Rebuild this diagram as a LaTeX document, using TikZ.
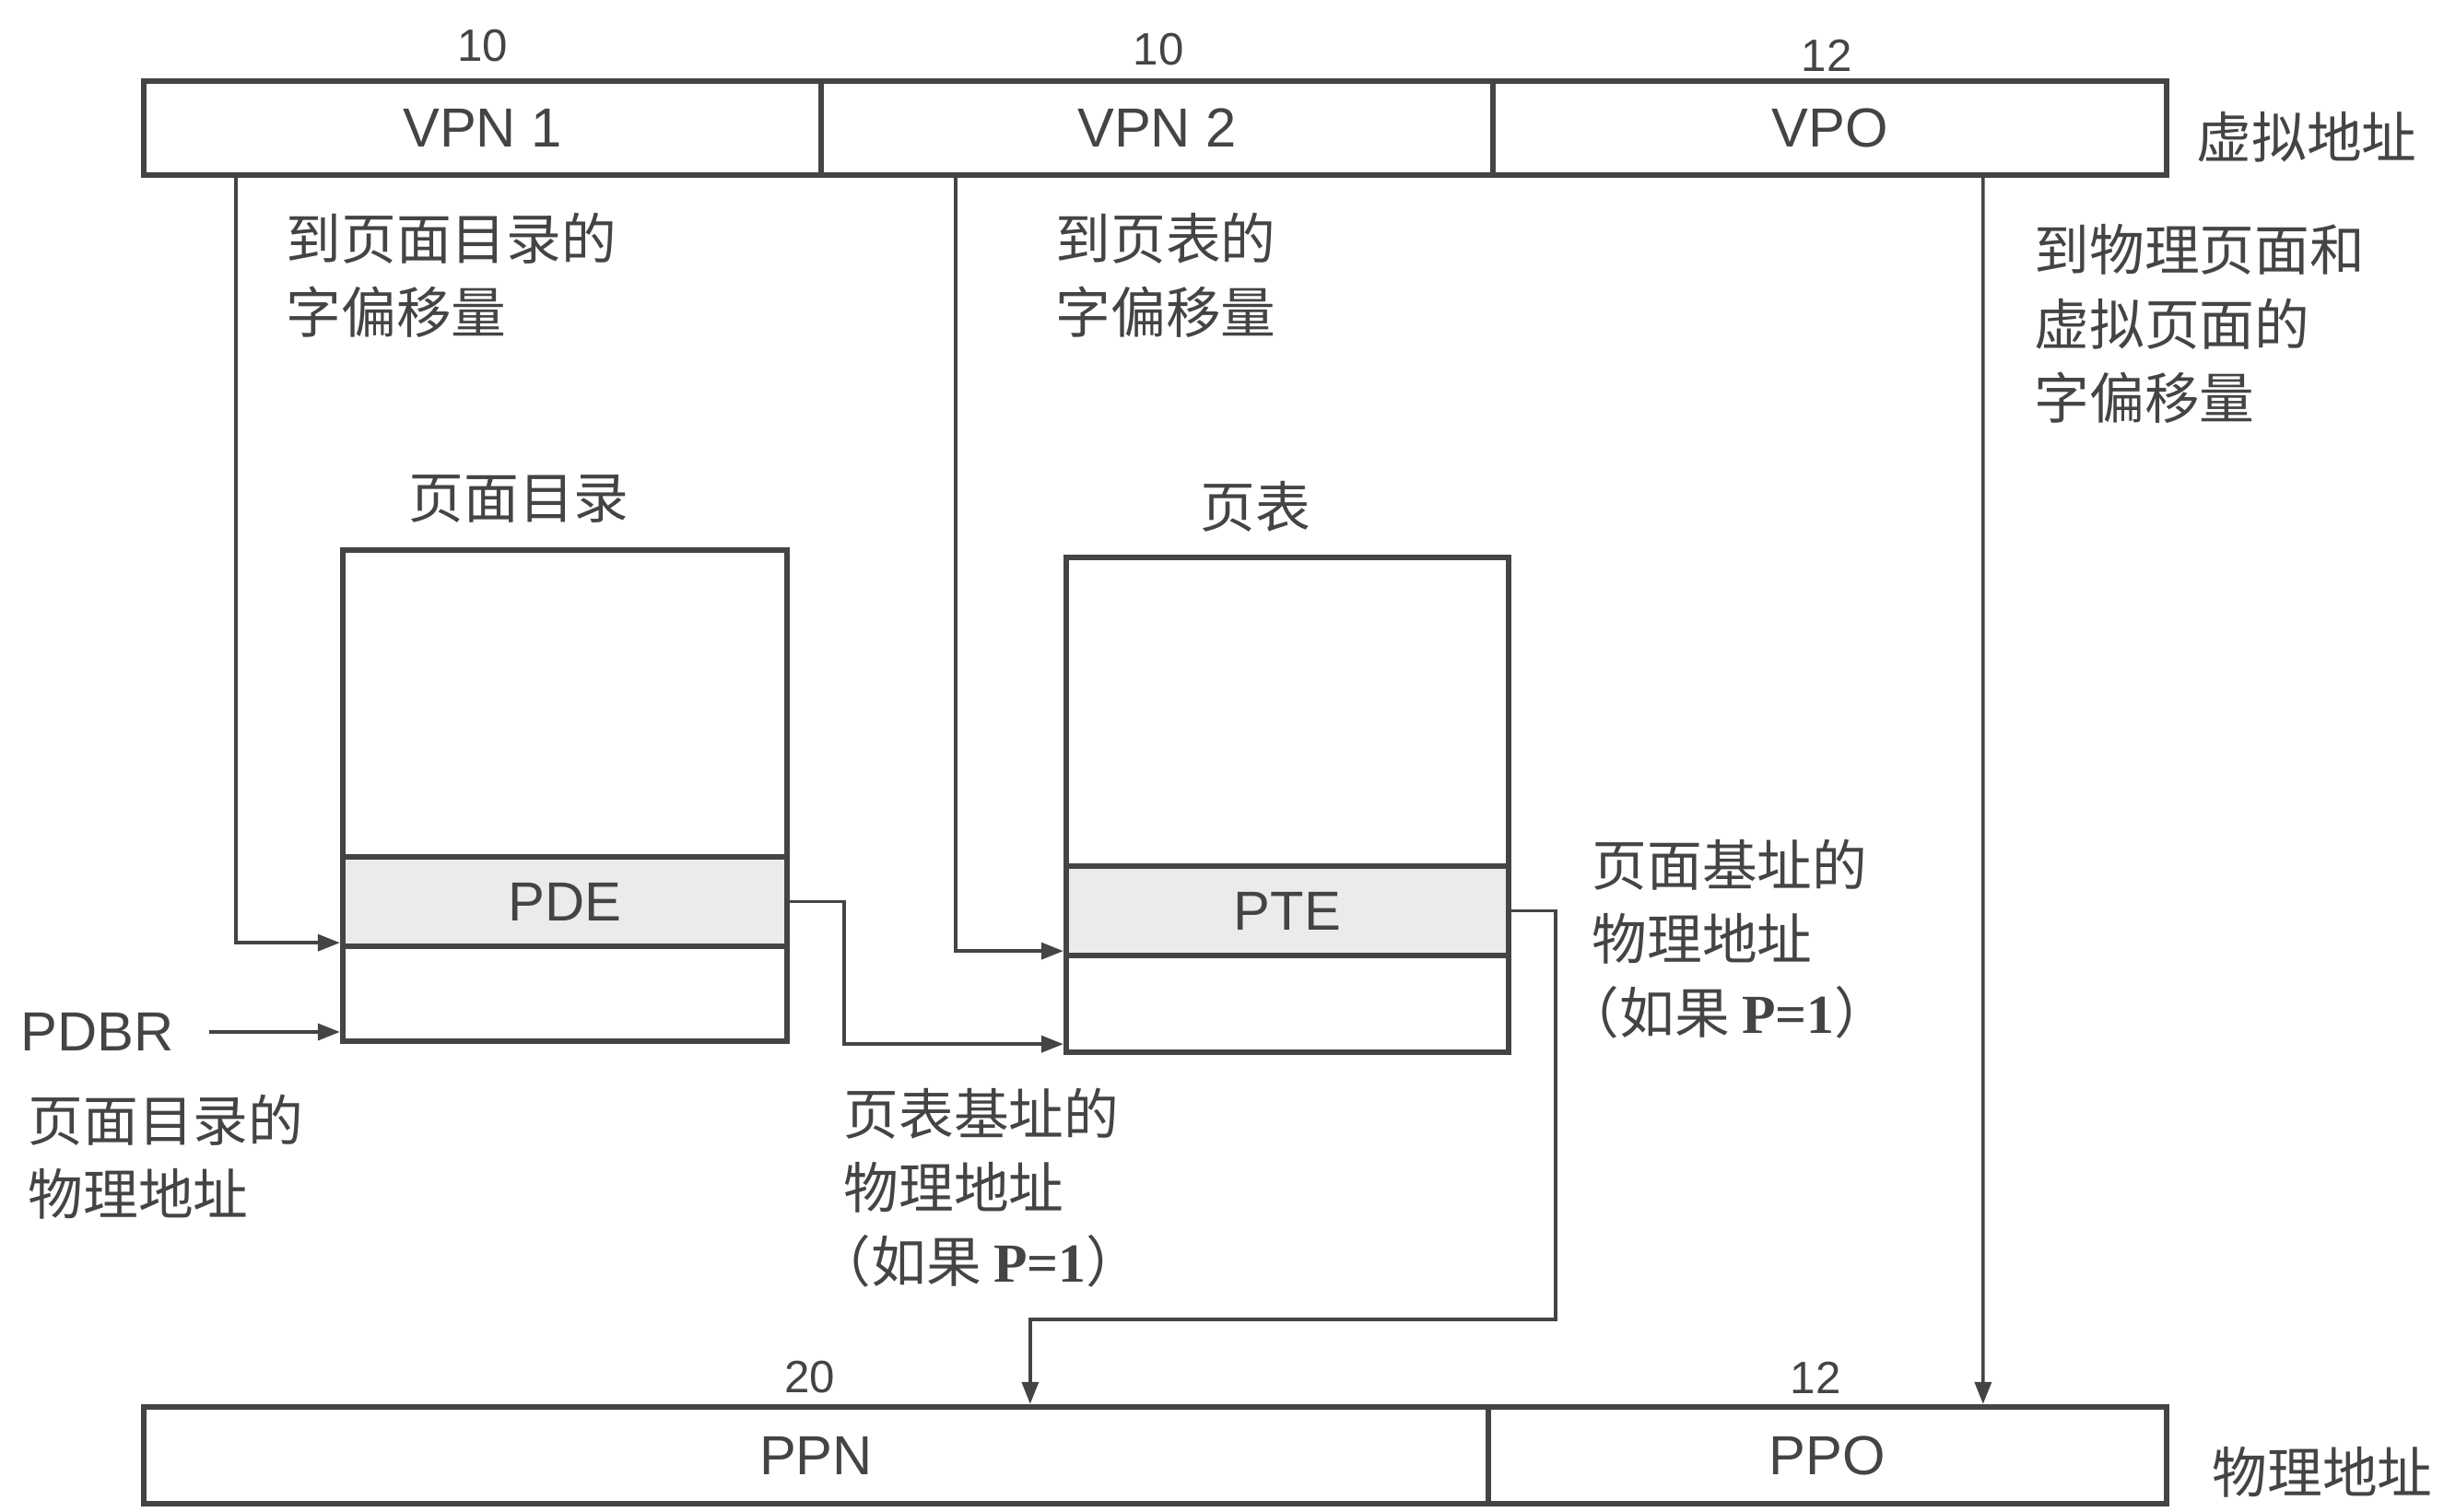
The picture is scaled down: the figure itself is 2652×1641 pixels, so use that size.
\documentclass[tikz,border=0pt]{standalone}
\usepackage{fontspec}
\setmainfont{Liberation Sans}
\newfontfamily\cjk{Noto Sans CJK SC}
\newfontfamily\tnr{Liberation Serif}
\usetikzlibrary{arrows.meta,calc}
\definecolor{ink}{HTML}{444444}
\definecolor{rowfill}{HTML}{EBEBEB}
\tikzset{
  field/.style={draw=ink, line width=1.8pt, minimum height=10.2mm, inner sep=0pt, text=ink, font=\fontsize{17}{20}\selectfont},
  cell/.style={draw=ink, line width=1.8pt, inner sep=0pt, text=ink, font=\fontsize{17}{20}\selectfont},
  conn/.style={draw=ink, line width=1pt},
  arr/.style={conn, -{Triangle[length=2.4mm,width=1.8mm]}},
  cjktext/.style={font=\cjk\fontsize{17}{22.8}\selectfont, text=ink, align=left, inner sep=0pt},
  bits/.style={font=\fontsize{14}{15}\selectfont, text=ink, inner sep=0pt},
  lbl/.style={font=\fontsize{17}{20}\selectfont, text=ink, inner sep=0pt}
}
\begin{document}
\begin{tikzpicture}[x=0.1mm,y=-0.1mm]
\useasboundingbox[fill=white] (0,0) rectangle (2652,1641);

% virtual address
\node[field, minimum width=73.5mm] (vpn1) at (523.5,139) {VPN 1};
\node[field, minimum width=72.9mm] (vpn2) at (1255.5,139) {VPN 2};
\node[field, minimum width=73.1mm] (vpo) at (1985.5,139) {VPO};
\node[bits] (b1) at (524,50) {10};
\node[bits] (b2) at (1257,54) {10};
\node[bits] (b3) at (1982,60) {12};
\node[cjktext] (va) at (2503,149) {虚拟地址};

% page directory
\node[cell, minimum width=48.2mm, minimum height=33.3mm] (pdtop) at (613,763.5) {};
\node[cell, fill=rowfill, minimum width=48.2mm, minimum height=9.7mm] (pde) at (613,978.5) {PDE};
\node[cell, minimum width=48.2mm, minimum height=10.3mm] (pdbot) at (613,1078.5) {};
\node[cjktext] (pdtitle) at (563,541) {页面目录};

% page table
\node[cell, minimum width=48mm, minimum height=33.5mm] (pttop) at (1397,772.5) {};
\node[cell, fill=rowfill, minimum width=48mm, minimum height=9.7mm] (pte) at (1397,988.5) {PTE};
\node[cell, minimum width=48mm, minimum height=10.5mm] (ptbot) at (1397,1089.5) {};
\node[cjktext] (pttitle) at (1362,550) {页表};

% physical address
\node[field, minimum width=145.9mm, minimum height=10.5mm] (ppn) at (885.5,1579.5) {PPN};
\node[field, minimum width=73.6mm, minimum height=10.5mm] (ppo) at (1983,1579.5) {PPO};
\node[bits] (b4) at (879,1495) {20};
\node[bits] (b5) at (1970,1495) {12};
\node[cjktext] (pa) at (2520,1598) {物理地址};

% PDBR
\node[lbl, anchor=west] (pdbr) at (22,1120) {PDBR};

% texts
\node[cjktext, anchor=north west] (t1) at (310,230) {到页面目录的\\字偏移量};
\node[cjktext, anchor=north west] (t2) at (1145,230) {到页表的\\字偏移量};
\node[cjktext, anchor=north west] (t3) at (2207,243) {到物理页面和\\虚拟页面的\\字偏移量};
\node[cjktext, anchor=north west] (t6) at (30,1187) {页面目录的\\物理地址};
\node[cjktext, anchor=north west] (t7) at (915,1180) {页表基址的\\物理地址\\\hspace*{-3mm}（如果 {\tnr\bfseries P=1}）};
\node[cjktext, anchor=north west] (t8) at (1727,910) {页面基址的\\物理地址\\\hspace*{-3mm}（如果 {\tnr\bfseries P=1}）};

% connectors
\draw[arr] ($(vpn1.south west)+(103,0)$) |- ($(pde.south west)+(0,-7)$);
\draw[arr] ($(pdbr.east)+(38,0)$) -- (pdbr.east -| pdbot.west);
\draw[arr] ($(vpn2.south west)+(149,0)$) |- ($(pte.south west)+(0,-8)$);
\draw[arr] (pde.east) -- ++(59,0) |- ($(ptbot.south west)+(0,-12)$);
\coordinate (bend) at (1688,1432);
\draw[arr] (pte.east) -| (bend) -| ($(ppn.north west)+(965,0)$);
\draw[arr] ($(vpo.south west)+(535,0)$) -- ($(ppo.north west)+(540,0)$);
\end{tikzpicture}
\end{document}
